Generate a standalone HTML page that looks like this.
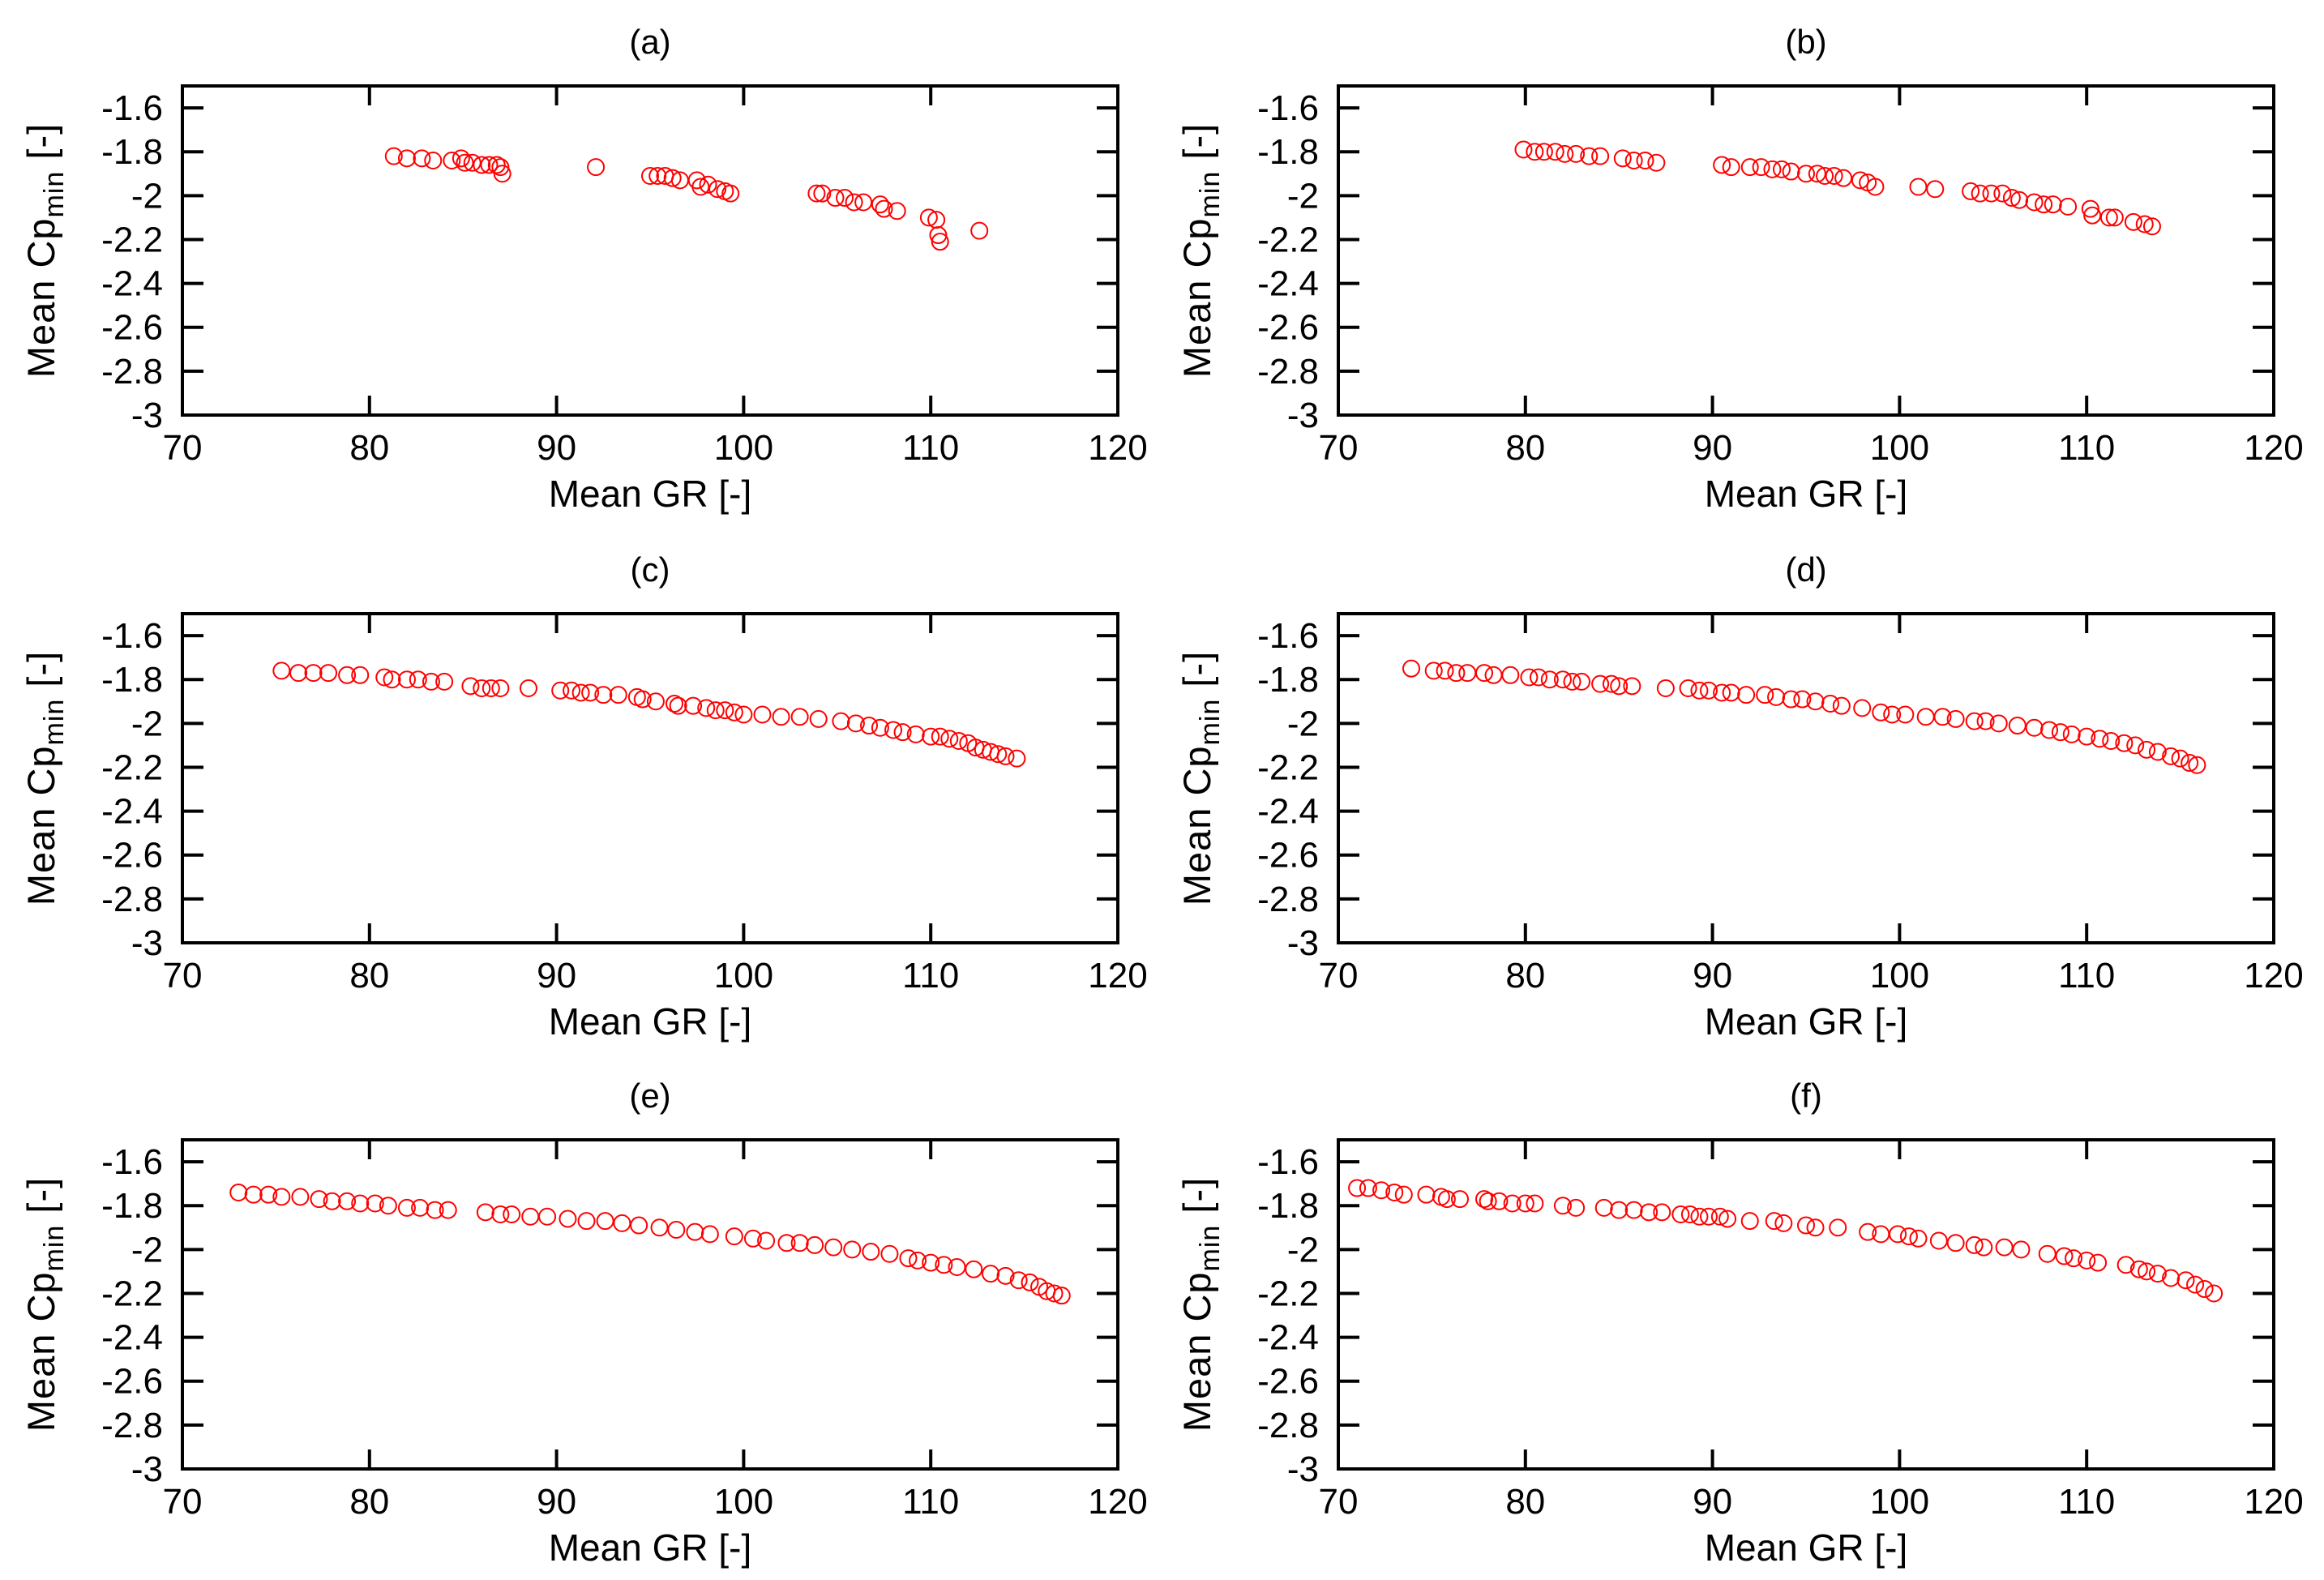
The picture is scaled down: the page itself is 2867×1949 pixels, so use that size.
<!DOCTYPE html>
<html><head><meta charset="utf-8"><style>
html,body{margin:0;padding:0;background:#fff;}
svg{display:block;}
text{font-family:"Liberation Sans",sans-serif;fill:#000;}
</style></head><body>
<svg id="fig" width="2867" height="1949" viewBox="0 0 2867 1949" xmlns="http://www.w3.org/2000/svg"></svg>
<script>
const xTicks=[70,80,90,100,110,120];
const yTicks=[-1.6,-1.8,-2,-2.2,-2.4,-2.6,-2.8,-3];
const yTickLabels=["-1.6","-1.8","-2","-2.2","-2.4","-2.6","-2.8","-3"];
const panelTitles=["(a)","(b)","(c)","(d)","(e)","(f)"];
const grA=[81.3,82.0,82.8,83.4,84.4,84.9,85.1,85.5,86.0,86.4,86.8,87.0,87.1,92.1,95.0,95.4,95.8,96.2,96.6,97.5,97.7,98.1,98.6,99.0,99.3,103.9,104.2,104.9,105.4,105.9,106.4,107.3,107.5,108.2,109.9,110.3,110.4,110.5,112.6];
const cpA=[-1.82,-1.83,-1.83,-1.84,-1.84,-1.83,-1.85,-1.85,-1.86,-1.86,-1.86,-1.87,-1.9,-1.87,-1.91,-1.91,-1.91,-1.92,-1.93,-1.93,-1.96,-1.95,-1.97,-1.98,-1.99,-1.99,-1.99,-2.01,-2.01,-2.03,-2.03,-2.04,-2.06,-2.07,-2.1,-2.11,-2.18,-2.21,-2.16];
const grB=[79.9,80.5,81.0,81.6,82.1,82.7,83.4,84.0,85.2,85.8,86.4,87.0,90.5,91.0,92.0,92.6,93.2,93.7,94.2,95.0,95.6,96.0,96.5,97.0,97.9,98.3,98.7,101.0,101.9,103.8,104.3,104.9,105.5,106.0,106.4,107.2,107.7,108.2,109.0,110.2,110.3,111.2,111.5,112.5,113.1,113.5];
const cpB=[-1.79,-1.8,-1.8,-1.8,-1.81,-1.81,-1.82,-1.82,-1.83,-1.84,-1.84,-1.85,-1.86,-1.87,-1.87,-1.87,-1.88,-1.88,-1.89,-1.9,-1.9,-1.91,-1.91,-1.92,-1.93,-1.94,-1.96,-1.96,-1.97,-1.98,-1.99,-1.99,-1.99,-2.01,-2.02,-2.03,-2.04,-2.04,-2.05,-2.06,-2.09,-2.1,-2.1,-2.12,-2.13,-2.14];
const grC=[75.3,76.2,77.0,77.8,78.8,79.5,80.8,81.2,82.0,82.6,83.3,84.0,85.4,86.0,86.5,87.0,88.5,90.2,90.8,91.3,91.8,92.5,93.3,94.3,94.6,95.3,96.3,96.5,97.3,98.0,98.5,99.0,99.5,100.0,101.0,102.0,103.0,104.0,105.2,106.0,106.7,107.3,108.0,108.5,109.2,110.0,110.5,111.0,111.5,112.0,112.4,112.8,113.2,113.6,114.0,114.6];
const cpC=[-1.76,-1.77,-1.77,-1.77,-1.78,-1.78,-1.79,-1.8,-1.8,-1.8,-1.81,-1.81,-1.83,-1.84,-1.84,-1.84,-1.84,-1.85,-1.85,-1.86,-1.86,-1.87,-1.87,-1.88,-1.89,-1.9,-1.91,-1.92,-1.92,-1.93,-1.94,-1.94,-1.95,-1.96,-1.96,-1.97,-1.97,-1.98,-1.99,-2.0,-2.01,-2.02,-2.03,-2.04,-2.05,-2.06,-2.06,-2.07,-2.08,-2.09,-2.11,-2.12,-2.13,-2.14,-2.15,-2.16];
const grD=[73.9,75.1,75.7,76.3,76.9,77.8,78.3,79.2,80.2,80.7,81.3,82.0,82.5,83.0,84.0,84.6,85.0,85.7,87.5,88.7,89.3,89.8,90.5,91.0,91.8,92.8,93.4,94.2,94.8,95.5,96.3,96.9,98.0,99.0,99.6,100.3,101.4,102.3,103.0,104.0,104.6,105.3,106.3,107.2,108.0,108.6,109.2,110.0,110.7,111.3,112.0,112.6,113.2,113.8,114.5,115.0,115.5,115.9];
const cpD=[-1.75,-1.76,-1.76,-1.77,-1.77,-1.77,-1.78,-1.78,-1.79,-1.79,-1.8,-1.8,-1.81,-1.81,-1.82,-1.82,-1.83,-1.83,-1.84,-1.84,-1.85,-1.85,-1.86,-1.86,-1.87,-1.87,-1.88,-1.89,-1.89,-1.9,-1.91,-1.92,-1.93,-1.95,-1.96,-1.96,-1.97,-1.97,-1.98,-1.99,-1.99,-2.0,-2.01,-2.02,-2.03,-2.04,-2.05,-2.06,-2.07,-2.08,-2.09,-2.1,-2.12,-2.13,-2.15,-2.16,-2.18,-2.19];
const grE=[73.0,73.8,74.6,75.3,76.3,77.3,78.0,78.8,79.5,80.3,81.0,82.0,82.7,83.5,84.2,86.2,87.0,87.6,88.6,89.5,90.6,91.6,92.6,93.5,94.4,95.5,96.4,97.4,98.2,99.5,100.5,101.2,102.3,103.0,103.8,104.8,105.8,106.8,107.8,108.8,109.3,110.0,110.7,111.4,112.3,113.2,114.0,114.7,115.3,115.8,116.2,116.6,117.0];
const cpE=[-1.74,-1.75,-1.75,-1.76,-1.76,-1.77,-1.78,-1.78,-1.79,-1.79,-1.8,-1.81,-1.81,-1.82,-1.82,-1.83,-1.84,-1.84,-1.85,-1.85,-1.86,-1.87,-1.87,-1.88,-1.89,-1.9,-1.91,-1.92,-1.93,-1.94,-1.95,-1.96,-1.97,-1.97,-1.98,-1.99,-2.0,-2.01,-2.02,-2.04,-2.05,-2.06,-2.07,-2.08,-2.09,-2.11,-2.12,-2.14,-2.15,-2.17,-2.19,-2.2,-2.21];
const grF=[71.0,71.6,72.3,73.0,73.5,74.7,75.5,75.8,76.5,77.8,78.0,78.6,79.3,80.0,80.5,82.0,82.7,84.2,85.0,85.8,86.6,87.3,88.3,88.8,89.3,89.8,90.4,90.8,92.0,93.3,93.8,95.0,95.5,96.7,98.3,99.0,99.9,100.5,101.0,102.1,103.0,104.0,104.5,105.6,106.5,107.9,108.8,109.3,110.0,110.6,112.1,112.8,113.2,113.8,114.5,115.3,115.8,116.3,116.8];
const cpF=[-1.72,-1.72,-1.73,-1.74,-1.75,-1.75,-1.76,-1.77,-1.77,-1.77,-1.78,-1.78,-1.79,-1.79,-1.79,-1.8,-1.81,-1.81,-1.82,-1.82,-1.83,-1.83,-1.84,-1.84,-1.85,-1.85,-1.85,-1.86,-1.87,-1.87,-1.88,-1.89,-1.9,-1.9,-1.92,-1.93,-1.93,-1.94,-1.95,-1.96,-1.97,-1.98,-1.99,-1.99,-2.0,-2.02,-2.03,-2.04,-2.05,-2.06,-2.07,-2.09,-2.1,-2.11,-2.13,-2.14,-2.16,-2.18,-2.2];
const seriesX=[grA,grB,grC,grD,grE,grF];
const seriesY=[cpA,cpB,cpC,cpD,cpE,cpF];

const NS="http://www.w3.org/2000/svg";
const svg=document.getElementById('fig');
function mk(tag,attrs,parent){const e=document.createElementNS(NS,tag);for(const k in attrs)e.setAttribute(k,attrs[k]);parent.appendChild(e);return e;}
const lefts=[225,1651], tops=[106,757,1406], W=1154, H=406;
const xmin=70,xmax=120,ymin=-3,ymax=-1.5;
for(let p=0;p<6;p++){
  const L=lefts[p%2], T=tops[Math.floor(p/2)];
  const xs=v=>L+(v-xmin)/(xmax-xmin)*W;
  const ys=v=>T+(ymax-v)/(ymax-ymin)*H;
  const g=mk('g',{},svg);
  
  
  const t=mk('text',{x:L+W/2,y:T-40,'text-anchor':'middle','font-size':42},g);
  t.textContent=panelTitles[p];
  
  
  xTicks.forEach(v=>{
    const x=xs(v);
    const tk=mk('path',{d:`M${x},${T} v24 M${x},${T+H} v-24`,stroke:'#000','stroke-width':4},g);
    
    
    const lb=mk('text',{x:x,y:T+H+55,'text-anchor':'middle','font-size':44},g);
    lb.textContent=v;
    
    
  });
  yTicks.forEach((v,i)=>{
    const y=ys(v);
    const tk=mk('path',{d:`M${L},${y} h26 M${L+W},${y} h-26`,stroke:'#000','stroke-width':4},g);
    
    
    const lb=mk('text',{x:L-24,y:y+15,'text-anchor':'end','font-size':44},g);
    lb.textContent=yTickLabels[i];
    
    
  });
  const fr=mk('rect',{x:L,y:T,width:W,height:H,fill:'none',stroke:'#000','stroke-width':4},g);
  
  
  const xl=mk('text',{x:L+W/2,y:T+H+113,'text-anchor':'middle','font-size':46},g);
  xl.textContent='Mean GR [-]';
  
  
  const yl=mk('text',{x:0,y:0,'text-anchor':'middle','font-size':47,'letter-spacing':1,transform:`translate(${L-158},${T+H/2}) rotate(-90)`},g);
  yl.innerHTML='Mean Cp<tspan font-size="34" dy="11">min</tspan><tspan dy="-11"> [-]</tspan>';
  
  
  const X=seriesX[p],Y=seriesY[p];
  for(let i=0;i<X.length;i++){
    const c=mk('circle',{cx:xs(X[i]),cy:ys(Y[i]),r:10,fill:'none',stroke:'#f00','stroke-width':2},g);
    
    
  }
}
</script>
</body></html>
